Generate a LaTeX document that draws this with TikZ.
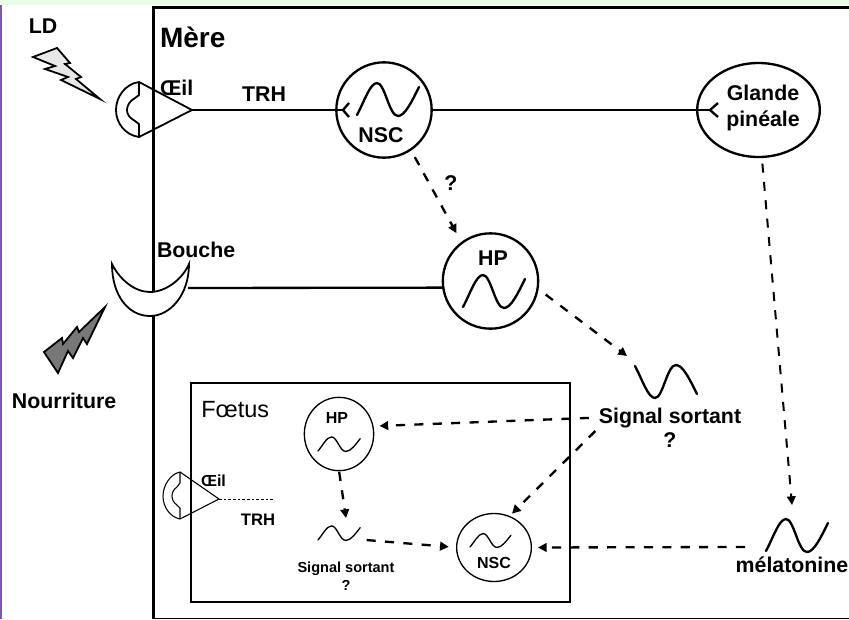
\documentclass[tikz,border=0pt]{standalone}
\usepackage{fontspec}
\setmainfont{Liberation Sans}
\usetikzlibrary{arrows.meta,shapes.geometric}
\definecolor{topgreen}{HTML}{EAFBEA}
\definecolor{sidepurple}{HTML}{7E57B5}
\tikzset{
 x=0.75pt,y=-0.75pt,
 lab/.style={inner sep=0pt,outer sep=0pt,anchor=base,font=\fontsize{16}{20}\selectfont\bfseries},
 labw/.style={lab,anchor=base west},
 sublab/.style={inner sep=0pt,outer sep=0pt,anchor=base,font=\fontsize{12}{14}\selectfont\bfseries},
 tinylab/.style={inner sep=0pt,outer sep=0pt,anchor=base,font=\fontsize{10.9}{13}\selectfont\bfseries},
 bigc/.style={circle,draw,line width=1.75pt,minimum size=71.5pt,inner sep=0pt,outer sep=0pt},
 smallshape/.style={ellipse,draw,line width=1pt,inner sep=0pt,outer sep=0pt},
 solidl/.style={line width=1.75pt},
 dsh/.style={line width=1.75pt,dash pattern=on 6.8pt off 7pt,-{Triangle[length=6.5pt,width=6.5pt]}},
 wavebig/.style={line width=1.75pt,line cap=round},
 wavesmall/.style={line width=1pt,line cap=round},
 eyeline/.style={line width=1.35pt,line join=round},
 eyethin/.style={line width=0.8pt,line join=round},
 bolt/.style={line width=1.35pt,line join=miter},
}
\newcommand{\wavepath}{(0,0) .. controls (7,-13) and (13,-32) .. (20,-32) .. controls (28,-32) and (32,1) .. (41,1) .. controls (48,1) and (55,-14) .. (62,-28)}
\begin{document}
\begin{tikzpicture}
\useasboundingbox (0,0) rectangle (849,619);
\fill[white] (0,0) rectangle (849,619);
\fill[sidepurple] (0,0) rectangle (2,619);
\fill[topgreen] (0,0) rectangle (849,5);

% mother frame
\coordinate (mtr) at (849,7.7);
\coordinate (mtl) at (153.5,7.7);
\coordinate (mbl) at (153.5,619);
\coordinate (mbr) at (849,618.3);
\draw[line width=2.5pt] (mtr) -- (mtl) -- (mbl);
\draw[line width=0.8pt] (mbl |- mbr) -- (mbr);

% foetus frame
\node[draw,line width=1.1pt,minimum width=284.25pt,minimum height=164.25pt,inner sep=0pt,outer sep=0pt] (foetus) at (380.5,492.5) {};

% lightning LD
\draw[bolt,fill=black!9] (33,57) -- (57,48) -- (70,63) -- (65,64) -- (81,77) -- (76,79) -- (100,99) -- (61,80) -- (68,77) -- (45,69) -- (55,66) -- cycle;
% lightning food
\draw[bolt,fill=black!53] (44,352) -- (62,338) -- (63,344) -- (77,327) -- (79,332) -- (105,307) -- (87,344) -- (83,338) -- (73,358) -- (68,351) -- (58,373) -- cycle;

% mother's eye
\draw[eyeline] (139,82) .. controls (125,84) and (116,97) .. (116,110) .. controls (116,123) and (125,135) .. (139,137) -- (139,124) -- (135,121) .. controls (130,118) and (127,115) .. (127,110) .. controls (127,105) and (130,101) .. (135,98) -- (139,95) -- cycle;
\coordinate (eyetip) at (192,110);
\draw[eyeline] (139,82) -- (eyetip) -- (139,137);

% mouth
\coordinate (mouthr) at (188,288);
\draw[line width=1.35pt,fill=white,line join=miter] (112,264) .. controls (120,280) and (135,292) .. (150,292) .. controls (165,292) and (182,280) .. (189,264) .. controls (189,295) and (170,316) .. (150,316) .. controls (128,316) and (112,295) .. (112,264) -- cycle;

% main circles
\node[bigc] (nsc) at (384,110) {};
\node[bigc] (hp) at (490.5,281) {};
\node[ellipse,draw,line width=1.75pt,minimum width=92pt,minimum height=70.5pt,inner sep=0pt,outer sep=0pt] (gland) at (758.5,110) {};

% foetus circles
\node[smallshape,minimum width=52pt,minimum height=55pt] (fhp) at (339,434) {};
\node[smallshape,minimum width=56pt,minimum height=51pt] (fnsc) at (494,547.5) {};

% waves
\draw[wavebig,shift={(357,115)}] \wavepath;
\draw[wavebig,shift={(463,307)}] \wavepath;
\draw[wavebig,shift={(635,366)},yscale=-1] \wavepath;
\draw[wavebig,shift={(766,551)}] \wavepath;
\draw[wavesmall,shift={(318,451)},xscale=0.68,yscale=0.44] \wavepath;
\draw[wavesmall,shift={(318,540)},xscale=0.68,yscale=0.44] \wavepath;
\draw[wavesmall,shift={(470,547)},xscale=0.66,yscale=0.42] \wavepath;

% solid connectors
\coordinate (nscfork) at (343,110);
\coordinate (glandfork) at (710,110);
\draw[solidl] (eyetip) -- (nscfork);
\draw[solidl] (349,103) -- (nscfork) -- (349,117);
\draw[solidl] (nsc.east) -- (glandfork);
\draw[solidl] (718,103) -- (glandfork) -- (718,117);
\draw[solidl] (mouthr) -- (hp.188.4);

% labels
\node[labw,font=\fontsize{21}{24}\selectfont\bfseries] (mere) at (160,47) {Mère};
\node[lab] (ld) at (43,33) {LD};
\node[labw] (oeil) at (160,95) {Œil};
\node[lab] (trh) at (264,101) {TRH};
\node[lab] (nsclab) at (381,142) {NSC};
\node[lab] (hplab) at (493,265) {HP};
\node[lab] (q1) at (451,190) {?};
\node[inner sep=0pt,outer sep=0pt,align=center,font=\fontsize{16}{20}\selectfont\bfseries] (glandlab) at (763,108) {Glande\\pinéale};
\node[labw] (bouche) at (157,257) {Bouche};
\node[labw] (nour) at (12,408) {Nourriture};
\node[lab] (sig) at (670,423) {Signal sortant};
\node[lab] (q2) at (670,447) {?};
\node[lab] (mel) at (792,572) {mélatonine};
\node[inner sep=0pt,anchor=base west,font=\fontsize{17.6}{20}\selectfont] (ftxt) at (201,417) {Fœtus};
\node[sublab] (fhplab) at (337,423) {HP};
\node[sublab,anchor=base west] (foeil) at (201,486) {Œil};
\node[sublab,font=\fontsize{12.5}{14}\selectfont\bfseries] (ftrh) at (258,525) {TRH};
\node[sublab] (fnsclab) at (494,568) {NSC};
\node[tinylab] (fsig) at (346,572) {Signal sortant};
\node[tinylab] (fq) at (346,590) {?};

% foetal eye
\coordinate (fetip) at (219,499);
\coordinate (feend) at (273,499);
\draw[eyethin] (180,472) .. controls (170,474) and (163,486) .. (163,496) .. controls (163,507) and (170,517) .. (180,519) -- (180,508) -- (177,505) .. controls (174,503) and (172,500) .. (172,496) .. controls (172,492) and (174,489) .. (177,487) -- (180,483) -- cycle;
\draw[eyethin] (180,472) -- (fetip) -- (180,519);
\draw[line width=0.75pt,dash pattern=on 2pt off 1.5pt] (fetip) -- (feend);

% dashed connectors
\coordinate (sigin) at (627,356);
\coordinate (melin) at (792,505);
\coordinate (fwtop) at (346,518);
\coordinate (fwright) at (360,539.5);
\coordinate (melleft) at (745,547);
\draw[dsh,shorten <=6.5pt,shorten >=8.4pt] (nsc.-56.4) -- (hp.127.3);
\draw[dsh,shorten <=7.6pt] (hp.-9.5) -- (sigin);
\draw[dsh,shorten <=5pt,line width=1.5pt] (gland.-86.4) -- (melin);
\draw[dsh,shorten <=7.5pt,shorten >=5pt] (sig.west) -- (fhp.13);
\draw[dsh,shorten <=3.75pt,shorten >=3pt] (sig.south west) -- (fnsc.64.4);
\draw[dsh,shorten <=1pt] (fhp.south) -- (fwtop);
\draw[dsh,shorten <=5pt,shorten >=6pt] (fwright) -- (fnsc.west);
\draw[dsh,shorten >=5pt] (melleft) -- (fnsc.east);
\end{tikzpicture}
\end{document}
